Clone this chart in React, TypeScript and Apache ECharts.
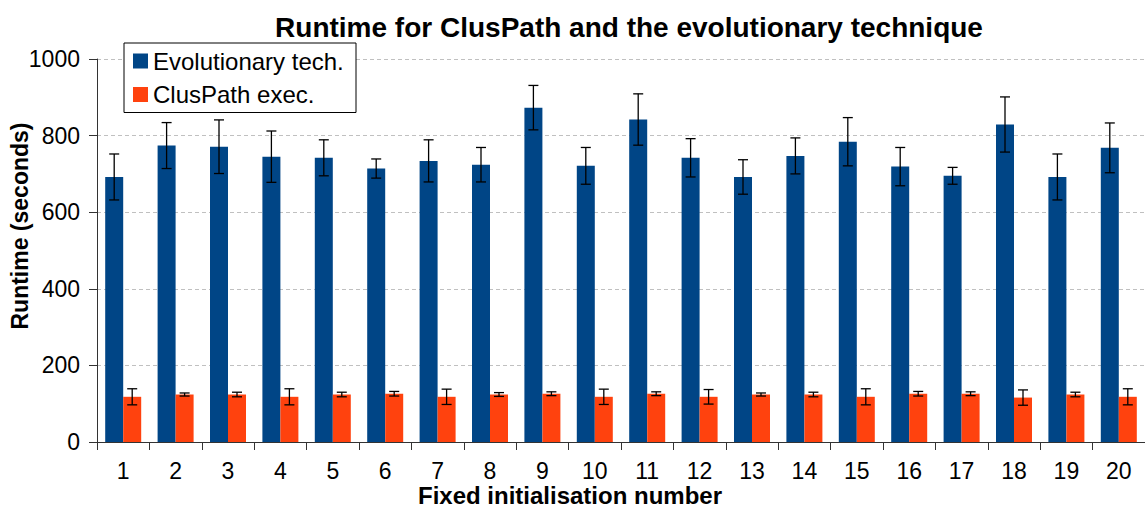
import React, { useEffect, useRef } from "react";
import * as echarts from "echarts";

const categories = ["1", "2", "3", "4", "5", "6", "7", "8", "9", "10", "11", "12", "13", "14", "15", "16", "17", "18", "19", "20"];
const evoValues = [692, 774, 771, 745, 742, 714, 734, 724, 873, 721, 842, 742, 692, 747, 784, 719, 695, 829, 692, 768];
const evoErrors = [60, 60, 70, 67, 47, 25, 55, 45, 58, 48, 67, 50, 45, 47, 63, 50, 22, 72, 60, 65];
const clusValues = [118, 124, 124, 118, 124, 126, 118, 124, 126, 118, 126, 118, 124, 124, 118, 126, 126, 116, 124, 118];
const clusErrors = [21, 4, 6, 21, 6, 6, 20, 5, 5, 20, 5, 19, 4, 6, 21, 6, 5, 20, 6, 21];
const yMin = 0;
const yMax = 1000;
const yStep = 200;

const FONT = "'Liberation Sans', Arial, sans-serif";
const BLUE = "#004586";
const ORANGE = "#ff420e";

function makeErrorRenderer(offset: number) {
  return (_params: any, api: any) => {
    const idx = api.value(0);
    const v = api.value(1);
    const e = api.value(2);
    const top = api.coord([idx, v + e]);
    const bot = api.coord([idx, v - e]);
    const x = top[0] + offset;
    const hw = 5;
    const style = { stroke: "#000", lineWidth: 1.3 };
    return {
      type: "group",
      children: [
        { type: "line", shape: { x1: x, y1: top[1], x2: x, y2: bot[1] }, style },
        { type: "line", shape: { x1: x - hw, y1: top[1], x2: x + hw, y2: top[1] }, style },
        { type: "line", shape: { x1: x - hw, y1: bot[1], x2: x + hw, y2: bot[1] }, style },
      ],
    };
  };
}

export default function App() {
  const ref = useRef<HTMLDivElement>(null);
  useEffect(() => {
    if (!ref.current) return;
    const chart = echarts.init(ref.current, undefined, { renderer: "svg" });
    const option: any = {
      animation: false,
      backgroundColor: "#fff",
      textStyle: { fontFamily: FONT },
      title: {
        text: "Runtime for ClusPath and the evolutionary technique",
        left: 629,
        textAlign: "center",
        top: 13,
        padding: 0,
        textStyle: { fontSize: 28, fontWeight: "bold", color: "#000", fontFamily: FONT },
      },
      legend: {
        data: ["Evolutionary tech.", "ClusPath exec."],
        orient: "vertical",
        left: 124,
        top: 43,
        padding: [6, 9, 6, 9],
        itemWidth: 15,
        itemHeight: 15,
        itemGap: 9.5,
        icon: "rect",
        borderColor: "#000",
        borderWidth: 1,
        borderRadius: 0,
        backgroundColor: "#fff",
        textStyle: { fontSize: 24, color: "#000", fontFamily: FONT, lineHeight: 24, width: 194 },
        z: 10,
      },
      grid: { left: 97, right: 0, top: 59, bottom: 66, containLabel: false },
      xAxis: {
        type: "category",
        data: categories,
        boundaryGap: true,
        axisLine: { show: true, lineStyle: { color: "#333", width: 1 } },
        axisTick: { show: true, length: 8, interval: 0, lineStyle: { color: "#333" } },
        axisLabel: { interval: 0, margin: 17, fontSize: 23, color: "#000", fontFamily: FONT },
        splitLine: { show: false },
      },
      yAxis: {
        type: "value",
        min: yMin,
        max: yMax,
        interval: yStep,
        axisLine: { show: true, lineStyle: { color: "#333", width: 1 } },
        axisTick: { show: true, length: 8, lineStyle: { color: "#333" } },
        axisLabel: {
          margin: 17,
          fontSize: 23,
          color: "#000",
          fontFamily: FONT,
          formatter: (v: number) => String(v),
        },
        splitLine: { show: true, lineStyle: { color: "#c0c0c0", type: [4, 3], width: 1 } },
      },
      graphic: [
        {
          type: "text",
          x: 20,
          y: 226,
          rotation: Math.PI / 2,
          style: {
            text: "Runtime (seconds)",
            font: `bold 23px ${FONT}`,
            fill: "#000",
            textAlign: "center",
            textVerticalAlign: "middle",
          },
        },
        {
          type: "text",
          x: 570,
          y: 495,
          style: {
            text: "Fixed initialisation number",
            font: `bold 24px ${FONT}`,
            fill: "#000",
            textAlign: "center",
            textVerticalAlign: "middle",
          },
        },
      ],
      series: [
        {
          name: "Evolutionary tech.",
          type: "bar",
          data: evoValues,
          barWidth: 18,
          barGap: "0%",
          itemStyle: { color: BLUE },
        },
        {
          name: "ClusPath exec.",
          type: "bar",
          data: clusValues,
          barWidth: 18,
          barGap: "0%",
          itemStyle: { color: ORANGE },
        },
        {
          name: "evoErr",
          type: "custom",
          renderItem: makeErrorRenderer(-9),
          data: evoValues.map((v, i) => [i, v, evoErrors[i]]),
          encode: { x: 0, y: 1 },
          z: 5,
        },
        {
          name: "clusErr",
          type: "custom",
          renderItem: makeErrorRenderer(9),
          data: clusValues.map((v, i) => [i, v, clusErrors[i]]),
          encode: { x: 0, y: 1 },
          z: 5,
        },
      ],
    };
    chart.setOption(option);
    return () => chart.dispose();
  }, []);
  return (
    <div
      ref={ref}
      style={{ position: "absolute", left: 0, top: 0, width: 1145, height: 508 }}
    />
  );
}
